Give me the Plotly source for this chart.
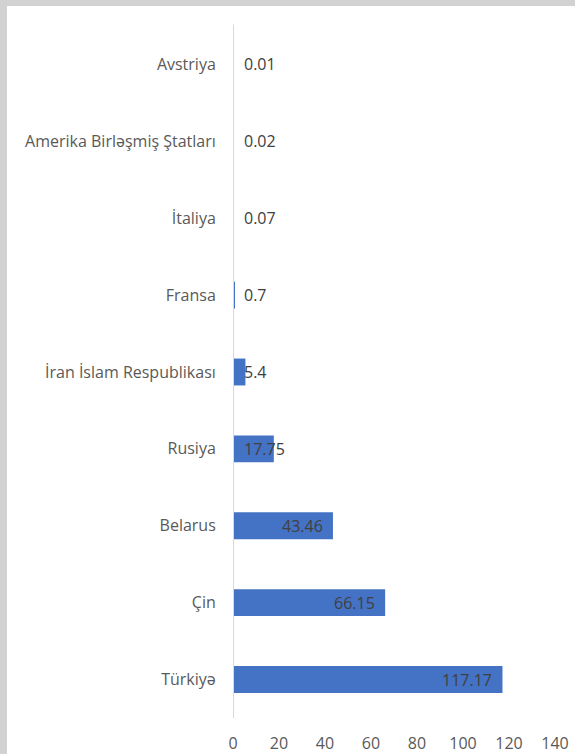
import plotly.graph_objects as go

countries = ['Avstriya', 'Amerika Birləşmiş Ştatları', 'İtaliya', 'Fransa',
             'İran İslam Respublikası', 'Rusiya', 'Belarus', 'Çin', 'Türkiyə']
values = [0.01, 0.02, 0.07, 0.7, 5.4, 17.75, 43.46, 66.15, 117.17]
labels = ['0.01', '0.02', '0.07', '0.7', '5.4', '17.75', '43.46', '66.15', '117.17']
x_ticks = [0, 20, 40, 60, 80, 100, 120, 140]

FONT = 'Open Sans'
W, H = 575, 754
L, R, T, B = 233, 20, 26, 36
pw, ph = W - L - R, H - T - B

fig = go.Figure(go.Bar(
    x=values, y=countries, orientation='h',
    marker=dict(color='#4472C4', line=dict(width=0)),
    hoverinfo='x+y',
))

# data labels: inside the bar end when there is room, otherwise next to the axis
for c, v, t in zip(countries, values, labels):
    big = v > 30
    fig.add_annotation(x=v if big else 0, y=c, text=t, showarrow=False,
                       xanchor='right' if big else 'left',
                       xshift=-8 if big else 9,
                       font=dict(family=FONT, size=16, color='#404040'))

# white card on a grey frame
fig.add_shape(type='rect', xref='paper', yref='paper', layer='below',
              x0=(7 - L) / pw, x1=(W + 5 - L) / pw,
              y0=-(B + 5) / ph, y1=(H - B - 6) / ph,
              fillcolor='white', line=dict(width=0))
# vertical axis line at zero
fig.add_shape(type='line', xref='x', yref='paper', x0=0, x1=0, y0=0, y1=1.002,
              line=dict(color='#d9d9d9', width=2), layer='above')

fig.update_layout(
    width=W, height=H,
    margin=dict(l=L, r=R, t=T, b=B),
    paper_bgcolor='#d2d2d2', plot_bgcolor='white',
    bargap=0.65, showlegend=False,
    font=dict(family=FONT, size=14, color='#595959'),
)
fig.update_xaxes(range=[0, 140], tickvals=x_ticks, showgrid=False, zeroline=False,
                 showline=False, ticks='outside', ticklen=11, tickcolor='rgba(0,0,0,0)',
                 tickfont=dict(size=16, color='#595959'),
                 automargin=False, fixedrange=True)
fig.update_yaxes(autorange='reversed', showgrid=False, zeroline=False,
                 showline=False,
                 ticks='outside', ticklen=13, tickcolor='rgba(0,0,0,0)',
                 tickfont=dict(size=16, color='#595959'),
                 automargin=False, fixedrange=True)

fig.write_html('out.html', config={'displayModeBar': False},
               post_script="document.body.style.margin='0';")
